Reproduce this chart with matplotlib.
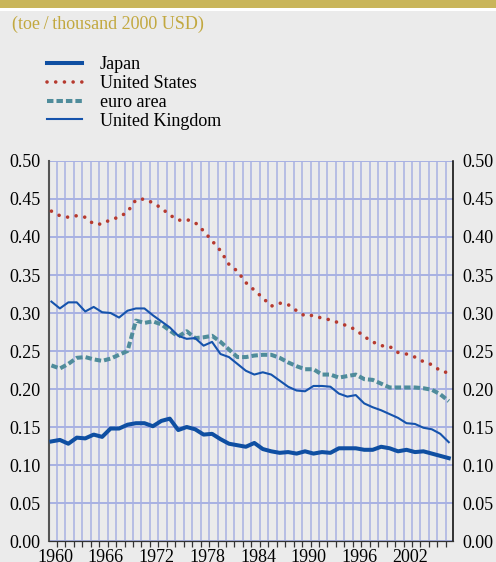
import numpy as np
import matplotlib.pyplot as plt
from matplotlib.patches import Rectangle

# Energy intensity, toe per thousand 2000 USD, 1960-2007
years = list(range(1960, 2008))

japan = [0.131, 0.133, 0.128, 0.136, 0.135, 0.140, 0.137, 0.148, 0.148, 0.153,
         0.155, 0.155, 0.151, 0.158, 0.161, 0.146, 0.150, 0.147, 0.140, 0.141,
         0.134, 0.128, 0.126, 0.124, 0.129, 0.121, 0.118, 0.116, 0.117, 0.115,
         0.118, 0.115, 0.117, 0.116, 0.122, 0.122, 0.122, 0.120, 0.120, 0.124,
         0.122, 0.118, 0.120, 0.117, 0.118, 0.115, 0.112, 0.109]

united_states = [0.434, 0.428, 0.426, 0.428, 0.426, 0.417, 0.417, 0.423, 0.426, 0.433,
                 0.449, 0.450, 0.445, 0.438, 0.429, 0.422, 0.423, 0.419, 0.408, 0.395,
                 0.382, 0.364, 0.355, 0.340, 0.330, 0.320, 0.309, 0.313, 0.311, 0.303,
                 0.296, 0.297, 0.293, 0.291, 0.287, 0.283, 0.278, 0.269, 0.262, 0.257,
                 0.256, 0.248, 0.246, 0.242, 0.236, 0.232, 0.224, 0.221]

euro_area = [0.231, 0.227, 0.233, 0.241, 0.242, 0.239, 0.237, 0.240, 0.245, 0.250,
             0.290, 0.287, 0.289, 0.285, 0.277, 0.269, 0.276, 0.267, 0.268, 0.270,
             0.262, 0.252, 0.242, 0.242, 0.244, 0.245, 0.245, 0.241, 0.235, 0.230,
             0.226, 0.226, 0.219, 0.219, 0.215, 0.217, 0.219, 0.213, 0.212, 0.207,
             0.202, 0.202, 0.202, 0.202, 0.201, 0.199, 0.193, 0.184]

united_kingdom = [0.315, 0.306, 0.314, 0.314, 0.302, 0.308, 0.301, 0.300, 0.294, 0.303,
                  0.306, 0.306, 0.297, 0.289, 0.281, 0.270, 0.266, 0.267, 0.257, 0.262,
                  0.246, 0.242, 0.233, 0.224, 0.219, 0.222, 0.219, 0.211, 0.203, 0.198,
                  0.197, 0.204, 0.204, 0.203, 0.194, 0.190, 0.192, 0.181, 0.176, 0.172,
                  0.167, 0.162, 0.155, 0.154, 0.149, 0.147, 0.141, 0.130]

label_years = [1960, 1966, 1972, 1978, 1984, 1990, 1996, 2002]
y_ticks = [0.00, 0.05, 0.10, 0.15, 0.20, 0.25, 0.30, 0.35, 0.40, 0.45, 0.50]

plt.rcParams['font.family'] = ['Liberation Serif', 'DejaVu Serif']
plt.rcParams['font.size'] = 13

bg = '#ebebeb'
gold = '#c9b55a'
grid_col = '#a8b1e2'

fig = plt.figure(figsize=(4.96, 5.62), dpi=100, facecolor=bg)

# top band
fig.patches.append(Rectangle((0, 1 - 8.3 / 562), 1, 8.3 / 562, transform=fig.transFigure,
                             facecolor=gold, edgecolor='none'))
fig.patches.append(Rectangle((0, 1 - 10.7 / 562), 1, 2.4 / 562, transform=fig.transFigure,
                             facecolor='white', edgecolor='none'))
fig.text(11.5 / 496, 1 - 28.5 / 562, '(toe\u2009/\u2009thousand 2000 USD)', color='#c2a83f',
         fontsize=13, ha='left', va='baseline')

ax = fig.add_axes([49.3 / 496, 21 / 562, (453 - 49.3) / 496, 380 / 562])
ax.set_facecolor(bg)

l1, = ax.plot(years, japan, color='#0f4fa2', lw=2.9, solid_joinstyle='round', zorder=5)
l2, = ax.plot(years, united_states, color='#b63a2f', lw=2.6,
              linestyle=(0, (0.01, 2.4)), dash_capstyle='round', zorder=4)
l3, = ax.plot(years, euro_area, color='#4f8c9b', lw=2.9,
              linestyle=(0, (1.6, 0.75)), dash_capstyle='butt', zorder=3)
l4, = ax.plot(years, united_kingdom, color='#1553ac', lw=1.5, zorder=4)

ax.set_xlim(1959.75, 2007.5)
ax.set_ylim(0, 0.5)

# vertical grid and outward ticks at every year
ax.set_xticks([y + 0.65 for y in range(1960, 2007)], minor=True)
ax.set_xticks([y + 0.45 for y in label_years])
ax.set_xticklabels([str(y) for y in label_years])
ax.grid(True, which='minor', axis='x', color=grid_col, lw=1.1)
ax.set_yticks(y_ticks)
ax.set_yticklabels(['%.2f' % v for v in y_ticks])
ax.grid(True, which='major', axis='y', color=grid_col, lw=1.4)
ax.set_axisbelow(True)

ax.tick_params(axis='x', which='major', length=0, pad=6)
ax.tick_params(axis='x', which='minor', direction='out', length=4.3, width=0.9, color='#333333')
ax.tick_params(axis='y', length=0, pad=6.5, labelright=True)

ax.spines['top'].set_visible(False)
ax.spines['left'].set_color('#555555')
ax.spines['left'].set_linewidth(1.5)
ax.spines['right'].set_color('black')
ax.spines['right'].set_linewidth(1.1)
ax.spines['bottom'].set_color('#333333')
ax.spines['bottom'].set_linewidth(0.9)

fig.legend([l1, l2, l3, l4], ['Japan', 'United States', 'euro area', 'United Kingdom'],
           loc='upper left', bbox_to_anchor=(40 / 496, 1 - 49 / 562), frameon=False,
           handlelength=1.95, handletextpad=0.95, labelspacing=0.1, borderaxespad=0,
           fontsize=13)

fig.savefig('out.png', dpi=100, facecolor=bg)
